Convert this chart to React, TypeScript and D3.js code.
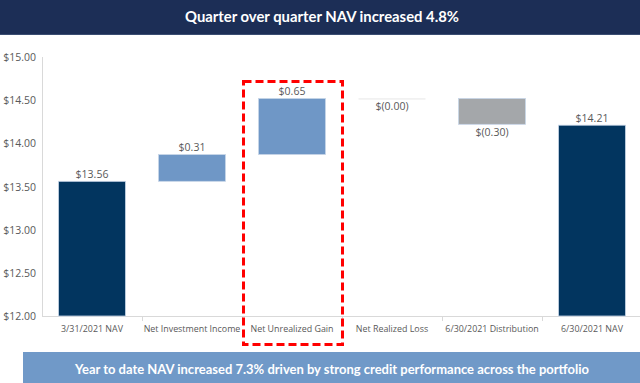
import React from "react";
import * as d3 from "d3";

const categories = [
  "3/31/2021 NAV",
  "Net Investment Income",
  "Net Unrealized Gain",
  "Net Realized Loss",
  "6/30/2021 Distribution",
  "6/30/2021 NAV",
];
const values = [13.56, 0.31, 0.65, -0.0, -0.3, 14.21];
const kinds = ["total", "increase", "increase", "decrease", "decrease", "total"];
const valueLabels = ["$13.56", "$0.31", "$0.65", "$(0.00)", "$(0.30)", "$14.21"];
const yTicks = [12, 12.5, 13, 13.5, 14, 14.5, 15];
const yTickLabels = ["$12.00", "$12.50", "$13.00", "$13.50", "$14.00", "$14.50", "$15.00"];
const highlighted = "Net Unrealized Gain";
const title = "Quarter over quarter NAV increased 4.8%";
const footer = "Year to date NAV increased 7.3% driven by strong credit performance across the portfolio";

const W = 640;
const H = 383;

export default function App() {
  const x = d3
    .scaleBand<string>()
    .domain(categories)
    .range([42, 642])
    .paddingInner(0.33)
    .paddingOuter(0.165);
  const y = d3.scaleLinear().domain([12, 15]).range([316, 57]);
  const bw = x.bandwidth();
  const step = x.step();
  const gap = (step - bw) / 2;

  let running = 0;
  const bars = categories.map((c, i) => {
    const v = values[i];
    const k = kinds[i];
    let lo: number, hi: number;
    if (k === "total") {
      lo = 12;
      hi = v;
      running = v;
    } else {
      const start = running;
      running = running + v;
      lo = Math.min(start, running);
      hi = Math.max(start, running);
    }
    return { c, v, k, lo, hi, label: valueLabels[i] };
  });

  const colorOf = (k: string) =>
    k === "total" ? "#02355f" : k === "increase" ? "#6f97c6" : "#a4a7aa";

  const font = "'Open Sans', 'Segoe UI', sans-serif";

  const hx = x(highlighted)! - gap;

  return (
    <svg
      width={W}
      height={H}
      style={{ position: "absolute", left: 0, top: 0, display: "block" }}
    >
      <rect x={0} y={0} width={W} height={H} fill="#ffffff" />
      {/* title banner */}
      <rect x={0} y={0} width={W} height={35} fill="#1c2e56" />
      <line x1={0} x2={W} y1={34.5} y2={34.5} stroke="#3a4d72" strokeWidth={1} />
      <text
        x={322}
        y={16}
        textAnchor="middle"
        dominantBaseline="central"
        fill="#ffffff"
        fontFamily="Lato, sans-serif"
        fontWeight={700}
        fontSize={15}
        textLength={274}
        lengthAdjust="spacingAndGlyphs"
      >
        {title}
      </text>

      {/* y axis */}
      <line x1={42.5} x2={42.5} y1={y(15)} y2={y(12)} stroke="#d9d9d9" strokeWidth={1} />
      <line x1={42} x2={642} y1={y(12) + 0.5} y2={y(12) + 0.5} stroke="#d9d9d9" strokeWidth={1} />
      {yTicks.map((t, i) => (
        <text
          key={t}
          x={36}
          y={y(t)}
          textAnchor="end"
          dominantBaseline="central"
          fill="#595959"
          fontFamily={font}
          fontSize={10.5}
        >
          {yTickLabels[i]}
        </text>
      ))}
      {categories.slice(1).map((c) => (
        <line
          key={"t" + c}
          x1={x(c)! - gap + 0.5}
          x2={x(c)! - gap + 0.5}
          y1={y(12)}
          y2={y(12) + 5}
          stroke="#d9d9d9"
          strokeWidth={1}
        />
      ))}

      {/* bars */}
      {bars.map((b) => {
        const x0 = x(b.c)!;
        const top = y(b.hi);
        const bottom = y(b.lo);
        const h = bottom - top;
        const isZero = h < 1;
        return (
          <g key={b.c}>
            {isZero ? (
              <line
                x1={x0}
                x2={x0 + bw}
                y1={top + 0.5}
                y2={top + 0.5}
                stroke="#e6e6e6"
                strokeWidth={1}
              />
            ) : (
              <rect
                x={x0}
                y={top}
                width={bw}
                height={h}
                fill={colorOf(b.k)}
                stroke="#c8d6e8"
                strokeWidth={0.8}
              />
            )}
            <text
              x={x0 + bw / 2}
              y={b.k === "decrease" ? bottom + 12 : top - 3.5}
              textAnchor="middle"
              fill="#595959"
              fontFamily={font}
              fontSize={10.5}
            >
              {b.label}
            </text>
            <text
              x={x0 + bw / 2}
              y={332}
              textAnchor="middle"
              fill="#595959"
              fontFamily={font}
              fontSize={8.9}
            >
              {b.c}
            </text>
          </g>
        );
      })}

      {/* highlight box */}
      <rect
        x={hx + 1.5}
        y={81.5}
        width={step - 1}
        height={263}
        fill="none"
        stroke="#ff0000"
        strokeWidth={3}
        strokeDasharray="8 4"
      />

      {/* footer banner */}
      <rect x={23} y={352} width={W - 23} height={H - 352} fill="#7099c8" />
      <text
        x={332}
        y={369}
        textAnchor="middle"
        dominantBaseline="central"
        fill="#ffffff"
        fontFamily="Lato, sans-serif"
        fontWeight={700}
        fontSize={12.5}
        textLength={514}
        lengthAdjust="spacingAndGlyphs"
      >
        {footer}
      </text>
    </svg>
  );
}
